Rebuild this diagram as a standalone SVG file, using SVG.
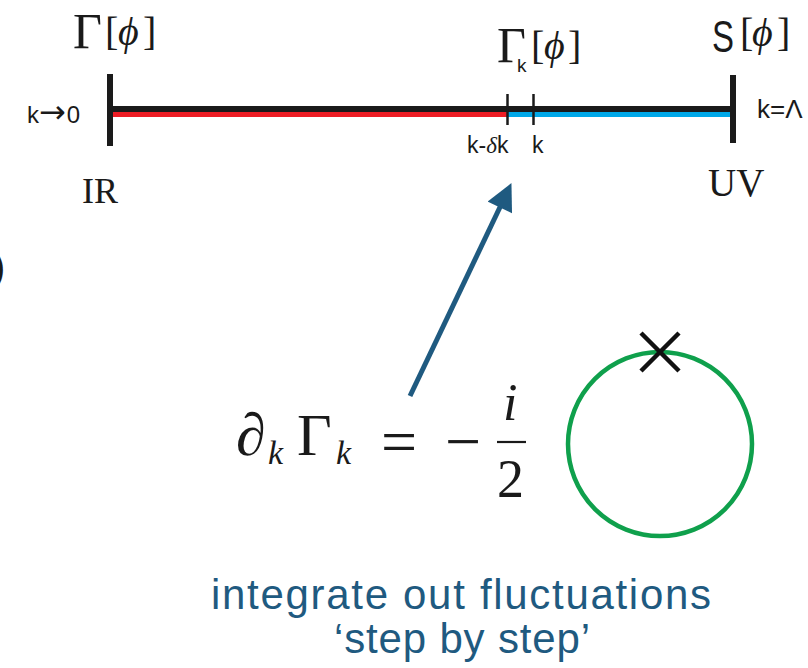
<svg xmlns="http://www.w3.org/2000/svg" width="808" height="668" viewBox="0 0 808 668">
<style>
.serif{font-family:"Liberation Serif","DejaVu Serif",serif;fill:#1a1a1a}
.sans{font-family:"Liberation Sans",Arial,sans-serif;fill:#1a1a1a}
.it{font-style:italic}
.br{font-family:"Liberation Serif","DejaVu Serif",serif;fill:#1a1a1a;font-size:40px}
.cap{font-family:"Liberation Sans",Arial,sans-serif;fill:#1f5a80;font-size:42px}
.tick{stroke:#1a1a1a;stroke-linecap:butt}
</style>
<defs>
<marker id="ah" viewBox="0 0 10 10" refX="1" refY="5" markerWidth="5.6" markerHeight="5.4" orient="auto" markerUnits="strokeWidth">
<path d="M0,0 L10,5 L0,10 z" fill="#1f5a80"/>
</marker>
</defs>
<rect width="808" height="668" fill="#ffffff"/>
<text class="sans" x="-8" y="281" font-size="40">)</text>
<g id="scale">
<line x1="110" y1="109" x2="733" y2="109" stroke="#1a1a1a" stroke-width="6"/>
<line x1="113" y1="114.5" x2="507" y2="114.5" stroke="#ed1c24" stroke-width="5"/>
<line x1="507" y1="114.5" x2="733" y2="114.5" stroke="#00a8e8" stroke-width="5"/>
<line class="tick" x1="110" y1="74" x2="110" y2="146" stroke-width="6"/>
<line class="tick" x1="733" y1="75" x2="733" y2="143" stroke-width="6"/>
<line class="tick" x1="507.5" y1="94" x2="507.5" y2="125" stroke-width="2.5"/>
<line class="tick" x1="533.5" y1="94" x2="533.5" y2="125" stroke-width="2.5"/>
</g>
<g id="ir">
<text class="serif" x="73" y="48" font-size="50">Γ</text>
<text class="br" x="105" y="45">[</text>
<text class="br it" x="118" y="45">ϕ</text>
<text class="br" x="143" y="45">]</text>
<text class="sans" x="27" y="123" font-size="24">k<tspan font-family="DejaVu Sans" font-size="32" dx="0">→</tspan><tspan dx="1">0</tspan></text>
<text class="serif" x="82" y="203" font-size="36">IR</text>
</g>
<g id="mid">
<text class="serif" x="497" y="62" font-size="50">Γ</text>
<text class="sans" x="517" y="72" font-size="19">k</text>
<text class="br" x="531" y="59">[</text>
<text class="br it" x="544" y="59">ϕ</text>
<text class="br" x="568" y="59">]</text>
<text class="sans" x="467" y="153" font-size="23">k-<tspan class="it" font-family="Liberation Serif">δ</tspan>k</text>
<text class="sans" x="532" y="153" font-size="23">k</text>
</g>
<g id="uv">
<text class="sans" x="712" y="52" font-size="44" textLength="22" lengthAdjust="spacingAndGlyphs">S</text>
<text class="br" x="740" y="46">[</text>
<text class="br it" x="752" y="46">ϕ</text>
<text class="br" x="777" y="46">]</text>
<text class="sans" x="757" y="118" font-size="26">k=Λ</text>
<text class="serif" x="708" y="196" font-size="39">UV</text>
</g>
<g id="connectors">
<line x1="410" y1="396" x2="501" y2="205" stroke="#1f5a80" stroke-width="5" marker-end="url(#ah)"/>
</g>
<g id="equation">
<text class="serif" x="236" y="455" font-size="60">∂</text>
<text class="serif it" x="268" y="464" font-size="34">k</text>
<text class="serif" x="297" y="455" font-size="60">Γ</text>
<text class="serif it" x="336" y="464" font-size="34">k</text>
<text class="serif" x="381" y="463" font-size="64">=</text>
<text class="serif" x="445" y="463" font-size="64">−</text>
<text class="serif it" x="503" y="420" font-size="52">i</text>
<line x1="497" y1="442" x2="526" y2="442" stroke="#1a1a1a" stroke-width="2.2"/>
<text class="serif" x="497" y="497" font-size="54">2</text>
</g>
<g id="loop">
<circle cx="660" cy="444" r="92" fill="none" stroke="#0fa04c" stroke-width="4.5"/>
<path d="M641,333 L679,371 M679,333 L641,371" stroke="#111" stroke-width="4.5"/>
</g>
<g id="caption">
<text class="cap" x="211" y="609" textLength="500" lengthAdjust="spacing">integrate out fluctuations</text>
<text class="cap" x="334" y="653" textLength="256" lengthAdjust="spacing">‘step by step’</text>
</g>
</svg>
